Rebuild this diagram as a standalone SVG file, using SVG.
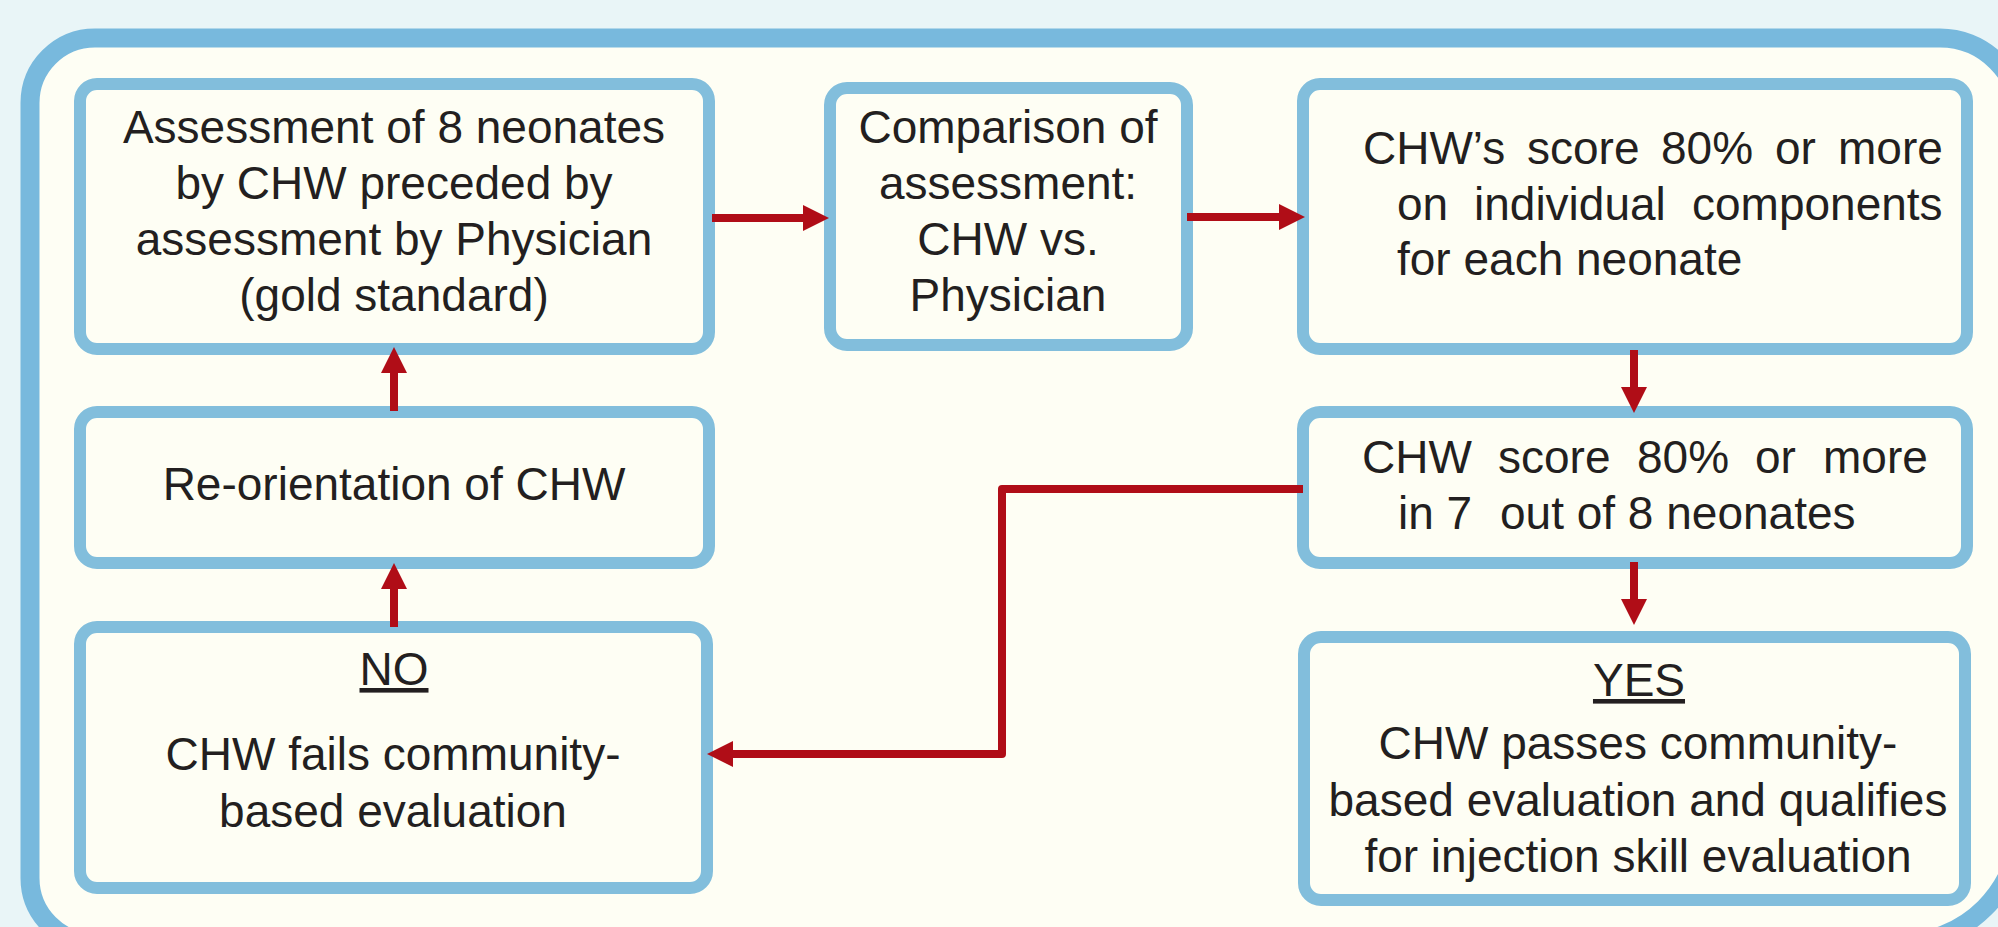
<svg xmlns="http://www.w3.org/2000/svg" width="1998" height="927" viewBox="0 0 1998 927">
<style>
.box{fill:#fefef4;stroke:#82bedc;stroke-width:12}
.t{font-family:"Liberation Sans",Arial,sans-serif;font-size:46px;fill:#231f20}
.c{text-anchor:middle}
.u{text-decoration:underline}
.con{fill:none;stroke:#b00d17;stroke-width:8;stroke-linejoin:round}
</style>
<defs>
<marker id="ah" markerUnits="userSpaceOnUse" markerWidth="27" markerHeight="27" refX="0" refY="13" orient="auto" overflow="visible">
<path d="M0,0 L26,13 L0,26 Z" fill="#b00d17"/>
</marker>
</defs>
<rect x="0" y="0" width="1998" height="927" fill="#e9f5f7"/>
<path id="frame" d="M95,38 H1940 A80,80 0 0 1 2020,118 V823 A120,120 0 0 1 1900,943 H95 A65,65 0 0 1 30,878 V103 A65,65 0 0 1 95,38 Z" fill="#fefef4" stroke="#78b9dd" stroke-width="19"/>

<g id="node-assessment">
<rect class="box" x="80" y="84" width="629" height="265" rx="17"/>
<text class="t c" x="394" y="143">Assessment of 8 neonates</text>
<text class="t c" x="394" y="199">by CHW preceded by</text>
<text class="t c" x="394" y="255">assessment by Physician</text>
<text class="t c" x="394" y="311">(gold standard)</text>
</g>

<g id="node-comparison">
<rect class="box" x="830" y="88" width="357" height="257" rx="17"/>
<text class="t c" x="1008" y="143">Comparison of</text>
<text class="t c" x="1008" y="199">assessment:</text>
<text class="t c" x="1008" y="255">CHW vs.</text>
<text class="t c" x="1008" y="311">Physician</text>
</g>

<g id="node-score-components">
<rect class="box" x="1303" y="84" width="664" height="265" rx="17"/>
<text class="t" y="164"><tspan x="1363">CHW’s</tspan><tspan x="1527">score</tspan><tspan x="1661">80%</tspan><tspan x="1775">or</tspan><tspan x="1838">more</tspan></text>
<text class="t" y="220"><tspan x="1397">on</tspan><tspan x="1474">individual</tspan><tspan x="1692">components</tspan></text>
<text class="t" x="1397" y="275">for each neonate</text>
</g>

<g id="node-reorientation">
<rect class="box" x="80" y="412" width="629" height="151" rx="17"/>
<text class="t c" x="394" y="500">Re-orientation of CHW</text>
</g>

<g id="node-score-neonates">
<rect class="box" x="1303" y="412" width="664" height="151" rx="17"/>
<text class="t" y="473"><tspan x="1362">CHW</tspan><tspan x="1498">score</tspan><tspan x="1637">80%</tspan><tspan x="1755">or</tspan><tspan x="1823">more</tspan></text>
<text class="t" y="529"><tspan x="1398">in 7</tspan><tspan x="1500">out of 8 neonates</tspan></text>
</g>

<g id="node-no">
<rect class="box" x="80" y="627" width="627" height="261" rx="17"/>
<text class="t c u" x="394" y="685">NO</text>
<text class="t c" x="393" y="770">CHW fails community-</text>
<text class="t c" x="393" y="827">based evaluation</text>
</g>

<g id="node-yes">
<rect class="box" x="1304" y="637" width="661" height="263" rx="17"/>
<text class="t c u" x="1639" y="696">YES</text>
<text class="t c" x="1638" y="759">CHW passes community-</text>
<text class="t c" x="1638" y="816">based evaluation and qualifies</text>
<text class="t c" x="1638" y="872">for injection skill evaluation</text>
</g>

<g id="connectors">
<path class="con" d="M712,218 H803" marker-end="url(#ah)"/>
<path class="con" d="M1187,217 H1279" marker-end="url(#ah)"/>
<path class="con" d="M1634,350 V387" marker-end="url(#ah)"/>
<path class="con" d="M1634,562 V599" marker-end="url(#ah)"/>
<path class="con" d="M394,411 V373" marker-end="url(#ah)"/>
<path class="con" d="M394,627 V589" marker-end="url(#ah)"/>
<path class="con" d="M1303,489 H1002 V754 H733" marker-end="url(#ah)"/>
</g>
</svg>
